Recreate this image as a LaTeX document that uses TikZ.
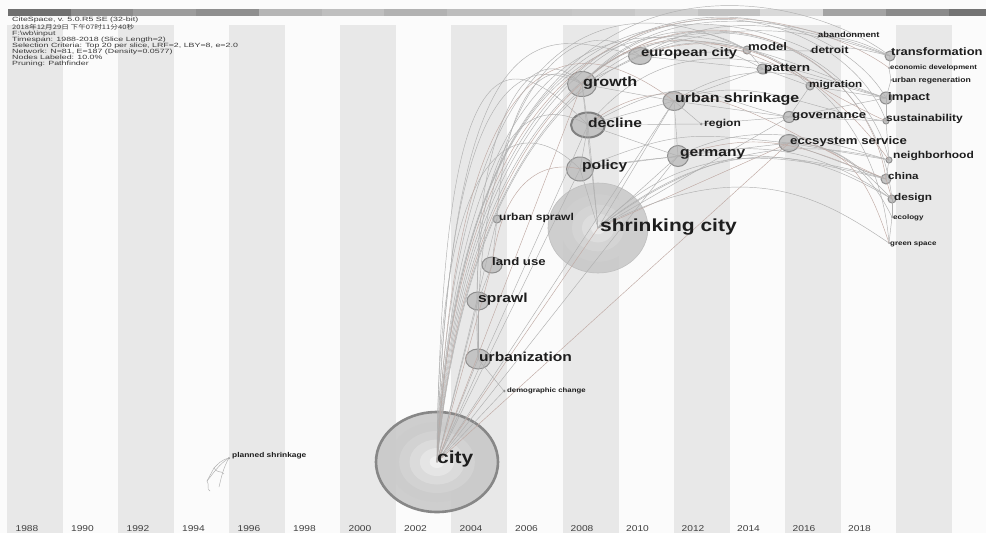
\documentclass[tikz,border=0pt]{standalone}
\usepackage{fontspec}
\setmainfont[FakeStretch=1.2]{Liberation Sans}
\newfontfamily\infofont[FakeStretch=1.45]{Liberation Sans}
\newfontfamily\cjkfont[FakeStretch=1.25]{Noto Sans CJK SC}
\usetikzlibrary{shapes.geometric}

\definecolor{paper}{HTML}{FBFBFB}
\definecolor{stripe}{HTML}{E8E8E8}
\definecolor{ringgray}{HTML}{8E8E8E}
\definecolor{nodegray}{HTML}{C4C4C4}
\definecolor{linkgray}{HTML}{B0B0B0}
\definecolor{linkred}{HTML}{BFA9A3}
\definecolor{inkgray}{HTML}{1E1E1E}

\begin{document}
\begin{tikzpicture}[x=1pt,y=-1pt,
	kwdot/.style 2 args={ellipse,inner sep=0pt,minimum width=#1,minimum height=#2,fill=nodegray,draw=ringgray,line width=1pt},
	tinydot/.style={circle,inner sep=0pt,minimum size=#1,fill=ringgray},
	kwlabel/.style={anchor=base west,inner sep=0pt,text=inkgray,font=\bfseries\fontsize{#1}{#1}\selectfont},
	yearlabel/.style={anchor=base,inner sep=0pt,text=black!75,font=\fontsize{8.5}{8.5}\selectfont},
	link/.style={draw=linkgray,line width=0.45pt},
	linkb/.style={draw=linkred,line width=0.45pt}]

	\useasboundingbox (0,0) rectangle (986,533);
	\clip (0,0) rectangle (986,533);
	\fill[paper] (0,0) rectangle (986,533);
	\foreach \i in {0,...,8}
		\fill[stripe] (7+111.1*\i,25) rectangle ++(56,508);
	\foreach \g [count=\i from 0] in {56,45,39,44,29,25,30,26,23,22,19,24,15,36,46,55}
		\fill[black!\g] (8+62.7*\i,9) rectangle ++(62.7,7);

	\foreach \yr [count=\i from 0] in {1988,1990,...,2018}
		\node[yearlabel] (y\yr) at (27+55.5*\i,531) {\yr};

	\node[anchor=north west,inner sep=0pt,align=left,text=black!78,font=\infofont\fontsize{6.1}{6.05}\selectfont] (info) at (12,17)
		{CiteSpace, v. 5.0.R5 SE (32-bit)\\
		{\cjkfont 2018年12月29日 下午07时11分40秒}\\
		F:\textbackslash wb\textbackslash input\\
		Timespan: 1988-2018 (Slice Length=2)\\
		Selection Criteria: Top 20 per slice, LRF=2, LBY=8, e=2.0\\
		Network: N=81, E=187 (Density=0.0577)\\
		Nodes Labeled: 10.0\%\\
		Pruning: Pathfinder};

	% burst circles
	\node[ellipse,inner sep=0pt,minimum width=122,minimum height=100,fill=black!22,fill opacity=0.85,draw=black!47,line width=2.6pt] (city) at (437,462) {};
	\foreach \s/\g in {0.8/20,0.62/17,0.45/13,0.28/9,0.12/5}
		\fill[black!\g,opacity=0.8] (city.center) ellipse ({61*\s} and {50*\s});
	\node[ellipse,inner sep=0pt,minimum width=100,minimum height=90,fill=black!22,fill opacity=0.85,draw=black!25,line width=0.6pt] (shrinking) at (598,228) {};
	\foreach \s/\g in {0.75/19,0.52/16,0.32/12,0.14/7}
		\fill[black!\g,opacity=0.8] (shrinking.center) ellipse ({50*\s} and {45*\s});

	\node[kwdot={25}{20}] (urbanization) at (478,359) {};
	\node[kwdot={22}{18}] (sprawl) at (478,301) {};
	\node[kwdot={20}{16}] (landuse) at (492,265) {};
	\node[kwdot={8}{8}] (urbansprawl) at (497,219) {};
	\node[tinydot=3] (demographic) at (504,391) {};
	\node[kwdot={29}{25}] (growth) at (582,84) {};
	\node[kwdot={34}{25},draw=black!50,line width=2pt] (decline) at (588,125) {};
	\node[kwdot={27}{24}] (policy) at (580,169) {};
	\node[kwdot={23}{17}] (european) at (640,56) {};
	\node[kwdot={22}{19}] (urbanshrink) at (674,101) {};
	\node[tinydot=3] (region) at (701,124) {};
	\node[kwdot={21}{21}] (germany) at (678,156) {};
	\node[kwdot={12}{11}] (governance) at (789,117) {};
	\node[kwdot={20}{17}] (ecosystem) at (789,143) {};
	\node[kwdot={8}{8}] (model) at (747,50) {};
	\node[kwdot={12}{10}] (pattern) at (763,69) {};
	\node[tinydot=3] (detroit) at (811,51) {};
	\node[tinydot=2] (abandon) at (818,37) {};
	\node[kwdot={8}{8}] (migration) at (810,86) {};
	\node[kwdot={10}{10}] (transform) at (890,56) {};
	\node[tinydot=2] (econdev) at (889,68) {};
	\node[tinydot=2] (urbanregen) at (891,80) {};
	\node[kwdot={12}{12}] (impact) at (886,98) {};
	\node[kwdot={6}{6}] (sustain) at (886,121) {};
	\node[kwdot={6}{6}] (neighbor) at (889,160) {};
	\node[kwdot={10}{10}] (china) at (886,179) {};
	\node[kwdot={8}{8}] (design) at (892,199) {};
	\node[tinydot=2] (ecology) at (892,217) {};
	\node[tinydot=2] (greenspace) at (889,243) {};
	\node[tinydot=2] (planned) at (229,458) {};
	\coordinate (ps-a) at (214,468);
	\coordinate (ps-b) at (207,481);
	\coordinate (ps-c) at (219,487);
	\coordinate (ps-d) at (224,474);
	\coordinate (ps-e) at (210,491);

	% links
	\draw[link] (city.center) -- (urbanization.center);
	\draw[link] (city.center) -- (sprawl.center);
	\draw[linkb] (city.center) -- (landuse.center);
	\draw[link] (city.center) -- (urbansprawl.center);
	\draw[link] (city.center) -- (demographic.center);
	\draw[linkb] (city.center) -- (shrinking.center);
	\draw[link] (city.center) -- (policy.center);
	\draw[link] (city.center) -- (decline.center);
	\draw[linkb] (city.center) -- (growth.center);
	\draw[link] (city.center) -- (germany.center);
	\draw[linkb] (city.center) -- (ecosystem.center);
	\draw[link] (city.center) -- (urbanshrink.center);
	\draw[link] (city.center) .. controls +(10,-390) and +(-60,-30) .. (growth.center);
	\draw[link] (city.center) .. controls +(5,-440) and +(-80,-80) .. (decline.center);
	\draw[link] (city.center) .. controls +(0,-330) and +(-60,-60) .. (policy.center);
	\draw[link] (city.center) .. controls +(15,-480) and +(-90,-20) .. (european.center);
	\draw[linkb] (city.center) .. controls +(20,-470) and +(-80,-60) .. (urbanshrink.center);
	\draw[link] (city.center) .. controls +(20,-520) and +(-80,-40) .. (model.center);
	\draw[link] (city.center) .. controls +(25,-520) and +(-70,-40) .. (pattern.center);
	\draw[link] (city.center) .. controls +(30,-540) and +(-60,-30) .. (detroit.center);
	\draw[link] (city.center) .. controls +(30,-540) and +(-60,-60) .. (migration.center);
	\draw[link] (city.center) .. controls +(25,-560) and +(-90,-70) .. (transform.center);
	\draw[linkb] (city.center) .. controls +(30,-560) and +(-80,-60) .. (econdev.center);
	\draw[link] (city.center) .. controls +(35,-560) and +(-60,-110) .. (impact.center);
	\draw[link] (city.center) .. controls +(40,-560) and +(-50,-140) .. (sustain.center);
	\draw[link] (city.center) .. controls +(45,-560) and +(-40,-170) .. (neighbor.center);
	\draw[linkb] (city.center) .. controls +(50,-560) and +(-30,-200) .. (china.center);
	\draw[link] (city.center) .. controls +(55,-560) and +(-20,-260) .. (greenspace.center);
	\draw[link] (city.center) .. controls +(50,-550) and +(-25,-230) .. (design.center);
	\draw[link] (urbanization.center) -- (sprawl.center);
	\draw[link] (sprawl.center) -- (landuse.center);
	\draw[link] (landuse.center) -- (urbansprawl.center);
	\draw[link] (urbanization.center) -- (demographic.center);
	\draw[link] (sprawl.center) .. controls +(-5,-150) and +(-60,-60) .. (growth.center);
	\draw[link] (urbanization.center) .. controls +(-10,-200) and +(-70,-40) .. (decline.center);
	\draw[linkb] (landuse.center) .. controls +(10,-80) and +(-40,-10) .. (policy.center);
	\draw[link] (urbansprawl.center) .. controls +(5,-90) and +(-50,-40) .. (growth.center);
	\draw[link] (urbanization.center) .. controls +(-5,-250) and +(-70,-60) .. (european.center);
	\draw[link] (shrinking.center) -- (policy.center);
	\draw[link] (shrinking.center) -- (decline.center);
	\draw[link] (shrinking.center) -- (growth.center);
	\draw[link] (shrinking.center) -- (germany.center);
	\draw[link] (shrinking.center) -- (urbanshrink.center);
	\draw[link] (shrinking.center) -- (governance.center);
	\draw[linkb] (shrinking.center) -- (ecosystem.center);
	\draw[link] (shrinking.center) .. controls +(100,-100) and +(-90,-20) .. (china.center);
	\draw[link] (shrinking.center) .. controls +(150,-80) and +(-60,-40) .. (greenspace.center);
	\draw[link] (shrinking.center) .. controls +(120,-90) and +(-80,-20) .. (neighbor.center);
	\draw[link] (shrinking.center) .. controls +(140,-110) and +(-70,-40) .. (design.center);
	\draw[link] (growth.center) -- (european.center);
	\draw[link] (growth.center) -- (urbanshrink.center);
	\draw[link] (growth.center) .. controls +(80,-90) and +(-100,-40) .. (transform.center);
	\draw[link] (growth.center) .. controls +(60,-60) and +(-50,-30) .. (model.center);
	\draw[linkb] (growth.center) .. controls +(100,-100) and +(-90,-40) .. (sustain.center);
	\draw[link] (growth.center) .. controls +(90,-90) and +(-90,-30) .. (impact.center);
	\draw[link] (decline.center) -- (growth.center);
	\draw[link] (decline.center) -- (policy.center);
	\draw[link] (decline.center) -- (urbanshrink.center);
	\draw[link] (decline.center) -- (region.center);
	\draw[link] (decline.center) -- (germany.center);
	\draw[link] (decline.center) .. controls +(90,-110) and +(-100,-30) .. (impact.center);
	\draw[linkb] (decline.center) .. controls +(100,-80) and +(-100,-40) .. (china.center);
	\draw[link] (decline.center) .. controls +(110,-60) and +(-90,-20) .. (governance.center);
	\draw[link] (policy.center) -- (germany.center);
	\draw[link] (policy.center) .. controls +(100,-40) and +(-100,-10) .. (ecosystem.center);
	\draw[link] (policy.center) .. controls +(120,-20) and +(-100,-30) .. (china.center);
	\draw[link] (european.center) -- (model.center);
	\draw[link] (european.center) -- (pattern.center);
	\draw[link] (european.center) .. controls +(80,-50) and +(-90,-30) .. (transform.center);
	\draw[link] (european.center) .. controls +(60,-30) and +(-40,-10) .. (abandon.center);
	\draw[linkb] (european.center) .. controls +(100,-40) and +(-60,-80) .. (neighbor.center);
	\draw[link] (urbanshrink.center) -- (germany.center);
	\draw[link] (urbanshrink.center) -- (region.center);
	\draw[link] (urbanshrink.center) -- (governance.center);
	\draw[link] (urbanshrink.center) -- (pattern.center);
	\draw[link] (urbanshrink.center) .. controls +(80,-50) and +(-80,-20) .. (impact.center);
	\draw[link] (urbanshrink.center) .. controls +(80,-30) and +(-80,-10) .. (sustain.center);
	\draw[link] (region.center) -- (governance.center);
	\draw[link] (germany.center) -- (ecosystem.center);
	\draw[linkb] (germany.center) .. controls +(90,-30) and +(-80,-30) .. (china.center);
	\draw[link] (germany.center) .. controls +(100,-20) and +(-60,-40) .. (design.center);
	\draw[link] (germany.center) .. controls +(80,-40) and +(-70,-20) .. (neighbor.center);
	\draw[link] (governance.center) -- (sustain.center);
	\draw[link] (governance.center) -- (impact.center);
	\draw[link] (ecosystem.center) -- (neighbor.center);
	\draw[link] (ecosystem.center) -- (china.center);
	\draw[link] (ecosystem.center) .. controls +(50,0) and +(-30,-30) .. (design.center);
	\draw[linkb] (ecosystem.center) .. controls +(60,0) and +(-20,-60) .. (greenspace.center);
	\draw[link] (ecosystem.center) .. controls +(55,0) and +(-20,-40) .. (ecology.center);
	\draw[link] (model.center) -- (detroit.center);
	\draw[link] (model.center) -- (pattern.center);
	\draw[link] (pattern.center) -- (migration.center);
	\draw[link] (migration.center) -- (impact.center);
	\draw[link] (migration.center) -- (governance.center);
	\draw[link] (detroit.center) .. controls +(30,-5) and +(-40,-10) .. (transform.center);
	\draw[link] (abandon.center) .. controls +(30,0) and +(-30,-15) .. (transform.center);
	\draw[link] (transform.center) -- (econdev.center);
	\draw[link] (econdev.center) -- (urbanregen.center);
	\draw[link] (urbanregen.center) -- (impact.center);
	\draw[link] (impact.center) -- (sustain.center);
	\draw[link] (sustain.center) -- (neighbor.center);
	\draw[link] (neighbor.center) -- (china.center);
	\draw[linkb] (china.center) -- (design.center);
	\draw[link] (design.center) -- (ecology.center);
	\draw[link] (ecology.center) -- (greenspace.center);
	\draw[link] (planned.center) .. controls +(-8,2) and +(4,-4) .. (ps-a);
	\draw[link] (planned.center) .. controls +(-10,6) and +(5,-6) .. (ps-b);
	\draw[link] (planned.center) .. controls +(-6,10) and +(2,-8) .. (ps-c);
	\draw[link] (ps-a) .. controls +(4,6) and +(-3,-4) .. (ps-d);
	\draw[link] (ps-b) .. controls +(3,4) and +(-4,-2) .. (ps-e);
	\draw[link] (ps-a) -- (ps-b);

	% keywords
	\node[kwlabel=17.5] (city-t) at (437,463) {city};
	\node[kwlabel=17.5] (shrinking-t) at (600,231) {shrinking city};
	\node[kwlabel=13] (urbanization-t) at (479,361) {urbanization};
	\node[kwlabel=13] (sprawl-t) at (478,302) {sprawl};
	\node[kwlabel=11] (landuse-t) at (492,265) {land use};
	\node[kwlabel=10] (urbansprawl-t) at (499,220) {urban sprawl};
	\node[kwlabel=6.5] (demographic-t) at (507,392) {demographic change};
	\node[kwlabel=13.5] (growth-t) at (583,86) {growth};
	\node[kwlabel=13] (decline-t) at (588,127) {decline};
	\node[kwlabel=13] (policy-t) at (582,169) {policy};
	\node[kwlabel=12.3] (european-t) at (641,56) {european city};
	\node[kwlabel=13.3] (urbanshrink-t) at (675,102) {urban shrinkage};
	\node[kwlabel=10] (region-t) at (704,126) {region};
	\node[kwlabel=13] (germany-t) at (680,156) {germany};
	\node[kwlabel=11] (governance-t) at (792,118) {governance};
	\node[kwlabel=11] (ecosystem-t) at (790,144) {eccsystem service};
	\node[kwlabel=11] (model-t) at (748,50) {model};
	\node[kwlabel=11.3] (pattern-t) at (764,71) {pattern};
	\node[kwlabel=10] (detroit-t) at (811,53) {detroit};
	\node[kwlabel=7.8] (abandon-t) at (818,37) {abandonment};
	\node[kwlabel=9.7] (migration-t) at (809,87) {migration};
	\node[kwlabel=10.8] (transform-t) at (891,55) {transformation};
	\node[kwlabel=6.5] (econdev-t) at (890,69.5) {economic development};
	\node[kwlabel=7.2] (urbanregen-t) at (892,82) {urban regeneration};
	\node[kwlabel=10.8] (impact-t) at (888,100) {impact};
	\node[kwlabel=10] (sustain-t) at (886,121) {sustainability};
	\node[kwlabel=10] (neighbor-t) at (893,158) {neighborhood};
	\node[kwlabel=9.7] (china-t) at (888,179) {china};
	\node[kwlabel=9.8] (design-t) at (894,200) {design};
	\node[kwlabel=6.7] (ecology-t) at (893,219.5) {ecology};
	\node[kwlabel=6.6] (greenspace-t) at (890,245) {green space};
	\node[kwlabel=7] (planned-t) at (232,457.5) {planned shrinkage};
\end{tikzpicture}
\end{document}
